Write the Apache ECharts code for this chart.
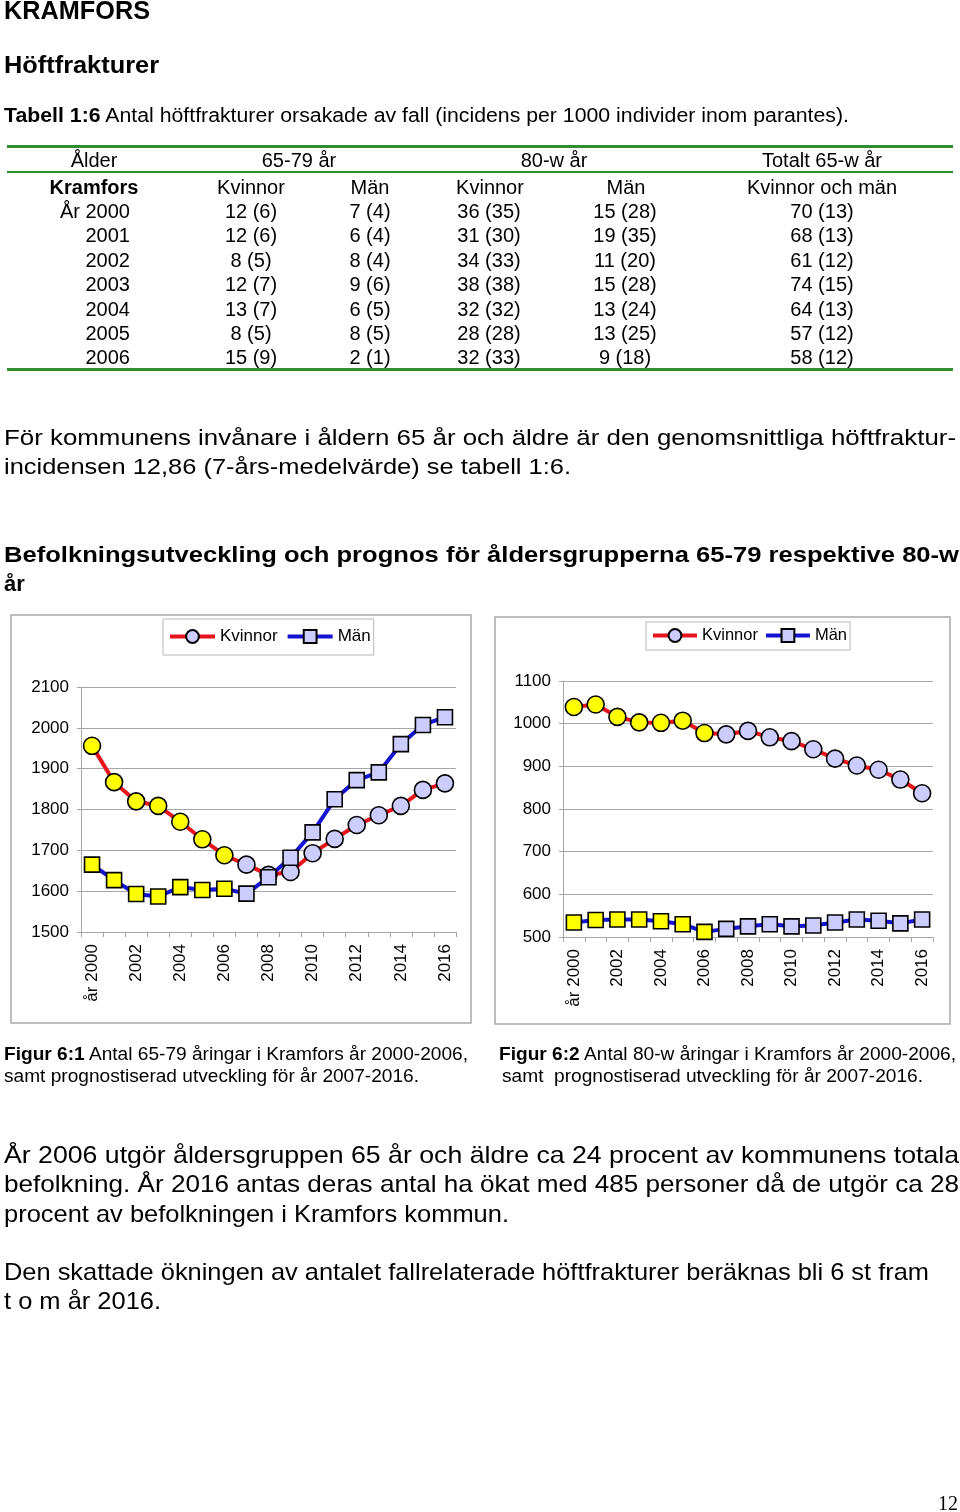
<!DOCTYPE html>
<html><head><meta charset="utf-8">
<script src="https://cdn.jsdelivr.net/npm/echarts@6/dist/echarts.min.js"></script>
<style>
html,body{margin:0;padding:0;background:#fff;}
#page{position:relative;width:960px;height:1512px;overflow:hidden;font-family:"Liberation Sans",Arial,Helvetica,sans-serif;color:#000;background:#fff;}
#chart{position:absolute;left:0;top:0;width:960px;height:1512px;}
.t{position:absolute;white-space:nowrap;line-height:1;}
.rule{position:absolute;background:#2d8f2d;}
</style></head>
<body><div id="page"><div id="chart"></div></div>
<script>
// ---------- data ----------
const years = ['2000','2001','2002','2003','2004','2005','2006','2007','2008','2009','2010','2011','2012','2013','2014','2015','2016'];
const xTickLabels = ['år 2000','','2002','','2004','','2006','','2008','','2010','','2012','','2014','','2016'];
const lastObservedYear = '2006';
const seriesNames = ['Kvinnor','Män'];
// Figur 6:1  65-79 år
const kvinnor6579 = [1956,1867,1820,1809,1770,1727,1688,1665,1640,1647,1693,1728,1762,1786,1809,1848,1864];
const man6579     = [1665,1627,1593,1587,1610,1603,1606,1594,1634,1682,1744,1825,1872,1891,1960,2007,2026];
// Figur 6:2  80-w år
const kvinnor80 = [1039,1045,1016,1003,1002,1007,978,975,983,968,959,940,918,902,892,869,837];
const man80     = [534,540,541,541,537,530,512,519,525,530,525,527,534,541,538,532,541];
// y-axis ticks
const yTicks1 = [1500,1600,1700,1800,1900,2000,2100];
const yTicks2 = [500,600,700,800,900,1000,1100];

// Tabell 1:6
const tableAgeHeader = ['Ålder','65-79 år','80-w år','Totalt 65-w år'];
const tableSubHeader = ['Kramfors','Kvinnor','Män','Kvinnor','Män','Kvinnor och män'];
const tableYears = ['År 2000','2001','2002','2003','2004','2005','2006'];
const tableRows = [
  ['12 (6)','7 (4)','36 (35)','15 (28)','70 (13)'],
  ['12 (6)','6 (4)','31 (30)','19 (35)','68 (13)'],
  ['8 (5)','8 (4)','34 (33)','11 (20)','61 (12)'],
  ['12 (7)','9 (6)','38 (38)','15 (28)','74 (15)'],
  ['13 (7)','6 (5)','32 (32)','13 (24)','64 (13)'],
  ['8 (5)','8 (5)','28 (28)','13 (25)','57 (12)'],
  ['15 (9)','2 (1)','32 (33)','9 (18)','58 (12)']
];

// ---------- text helpers ----------
const page = document.getElementById('page');
function txt(html, x, base, size, opt) {
  opt = opt || {};
  const el = document.createElement('div');
  el.className = 't';
  el.innerHTML = html;
  el.style.fontSize = size + 'px';
  if (opt.bold) el.style.fontWeight = 'bold';
  if (opt.font) el.style.fontFamily = opt.font;
  el.style.top = (base - 0.8465 * size) + 'px';
  el.style.left = '0px';
  page.appendChild(el);
  const w = el.getBoundingClientRect().width;
  const align = opt.align || 'left';
  let left = x;
  if (align === 'center') left = x - w / 2; else if (align === 'right') left = x - w;
  el.style.left = left + 'px';
  if (opt.w) {
    el.style.transformOrigin = align === 'center' ? '50% 0' : (align === 'right' ? '100% 0' : '0 0');
    el.style.transform = 'scaleX(' + (opt.w / w) + ')';
  }
  return el;
}
function rule(x, y, w, h) {
  const d = document.createElement('div');
  d.className = 'rule';
  d.style.left = x + 'px'; d.style.top = y + 'px'; d.style.width = w + 'px'; d.style.height = h + 'px';
  page.appendChild(d);
}

// headings
txt('KRAMFORS', 4, 19, 25, {bold:true, w:146});
txt('Höftfrakturer', 4, 73, 24, {bold:true, w:155});
txt('<b>Tabell 1:6</b> Antal höftfrakturer orsakade av fall (incidens per 1000 individer inom parantes).', 4, 122, 20, {w:845});

// table
rule(7, 145, 946, 3);
rule(7, 171, 946, 2);
rule(7, 368, 946, 3);
const ageCenters = [94, 299, 554, 822];
tableAgeHeader.forEach((s, i) => txt(s, ageCenters[i], 167, 20, {align:'center'}));
const subCenters = [94, 251, 370, 490, 626, 822];
tableSubHeader.forEach((s, i) => txt(s, subCenters[i], 194, 20, {align:'center', bold: i === 0}));
const valCenters = [251, 370, 489, 625, 822];
tableYears.forEach((y, r) => {
  const b = 218 + r * 24.4;
  txt(y, 130, b, 20, {align:'right'});
  tableRows[r].forEach((v, c) => txt(v, valCenters[c], b, 20, {align:'center'}));
});

// paragraph
txt('För kommunens invånare i åldern 65 år och äldre är den genomsnittliga höftfraktur-', 4, 446, 22, {w:952});
txt('incidensen 12,86 (7-års-medelvärde) se tabell 1:6.', 4, 475, 22, {w:567});

txt('Befolkningsutveckling och prognos för åldersgrupperna 65-79 respektive 80-w', 4, 563, 22, {bold:true, w:955});
txt('år', 4, 592, 22, {bold:true});

// captions
txt('<b>Figur 6:1</b> Antal 65-79 åringar i Kramfors år 2000-2006,', 4, 1061, 17.5, {w:464});
txt('samt prognostiserad utveckling för år 2007-2016.', 4, 1083, 17.5, {w:415});
txt('<b>Figur 6:2</b> Antal 80-w åringar i Kramfors år 2000-2006,', 499, 1061, 17.5, {w:457});
txt('samt&nbsp; prognostiserad utveckling för år 2007-2016.', 502, 1083, 17.5, {w:421});

// bottom paragraphs
txt('År 2006 utgör åldersgruppen 65 år och äldre ca 24 procent av kommunens totala', 4, 1163, 24, {w:955});
txt('befolkning. År 2016 antas deras antal ha ökat med 485 personer då de utgör ca 28', 4, 1192, 24, {w:955});
txt('procent av befolkningen i Kramfors kommun.', 4, 1222, 24, {w:505});
txt('Den skattade ökningen av antalet fallrelaterade höftfrakturer beräknas bli 6 st fram', 4, 1280, 24, {w:925});
txt('t o m år 2016.', 4, 1309, 24, {w:157});

txt('12', 958, 1510, 20, {align:'right', font:'"Liberation Serif","Times New Roman",serif'});

// ---------- chart ----------
const YELLOW = '#ffff00', LAVENDER = '#ccccff', RED = '#e8141c', BLUE = '#1414d2', GRID = '#a6a6a6';
const FONT = 'Liberation Sans, Arial, sans-serif';
const obsIdx = years.indexOf(lastObservedYear);
function pts(arr) {
  return arr.map((v, i) => ({value: v, itemStyle: {color: i <= obsIdx ? YELLOW : LAVENDER}}));
}
const chart = echarts.init(document.getElementById('chart'), null, {renderer:'canvas'});
function xAxis(gi) {
  return {
    type:'category', gridIndex:gi, data:years, boundaryGap:true,
    axisLine:{show:true, lineStyle:{color:GRID, width:1}},
    axisTick:{show:true, interval:0, length:5, lineStyle:{color:GRID}},
    axisLabel:{interval:0, rotate:90, margin:12, fontSize:17, color:'#000', fontFamily:FONT,
      formatter:(v, i) => xTickLabels[i]}
  };
}
function yAxis(gi, ticks) {
  return {
    type:'value', gridIndex:gi, min:ticks[0], max:ticks[ticks.length-1], interval:ticks[1]-ticks[0],
    axisLine:{show:true, lineStyle:{color:GRID, width:1}},
    axisTick:{show:true, length:4, lineStyle:{color:GRID}},
    splitLine:{show:true, lineStyle:{color:GRID, width:1}},
    axisLabel:{margin:12, fontSize:17, color:'#000', fontFamily:FONT, formatter:(v) => String(v)}
  };
}
function ser(name, data, gi, sym, size, color) {
  return {
    name, type:'line', xAxisIndex:gi, yAxisIndex:gi, data:pts(data),
    symbol:sym, symbolSize:size, showAllSymbol:true, animation:false,
    lineStyle:{color, width:4},
    itemStyle:{color:LAVENDER, borderColor:'#000', borderWidth:1.6},
    emphasis:{disabled:true}
  };
}
const legendBase = {
  data: seriesNames, itemWidth:45, itemHeight:16, itemGap:8, orient:'horizontal',
  backgroundColor:'#fff', borderColor:'#b8b8b8', borderWidth:1,
  textStyle:{fontSize:17, color:'#000', fontFamily:FONT},
  lineStyle:{width:4},
  selectedMode:false
};
chart.setOption({
  animation:false,
  graphic:[
    {type:'rect', shape:{x:11, y:615, width:460, height:408}, style:{fill:'none', stroke:'#a8a8a8', lineWidth:1.5}, silent:true},
    {type:'rect', shape:{x:495, y:617, width:455, height:407}, style:{fill:'none', stroke:'#a8a8a8', lineWidth:1.5}, silent:true}
  ],
  legend:[
    Object.assign({}, legendBase, {left:163, top:619, padding:[9,3,10,5]}),
    Object.assign({}, legendBase, {left:646, top:622, padding:[5,3,6,5], itemWidth:44, itemGap:6,
      textStyle:{fontSize:16.5, color:'#000', fontFamily:FONT}})
  ],
  grid:[
    {left:81, top:687, width:375, height:245, containLabel:false},
    {left:563, top:681, width:370, height:256, containLabel:false}
  ],
  xAxis:[xAxis(0), xAxis(1)],
  yAxis:[yAxis(0, yTicks1), yAxis(1, yTicks2)],
  series:[
    ser(seriesNames[0], kvinnor6579, 0, 'circle', 17, RED),
    ser(seriesNames[1], man6579, 0, 'rect', 15, BLUE),
    ser(seriesNames[0], kvinnor80, 1, 'circle', 17, RED),
    ser(seriesNames[1], man80, 1, 'rect', 15, BLUE)
  ]
});
</script>
</body></html>
